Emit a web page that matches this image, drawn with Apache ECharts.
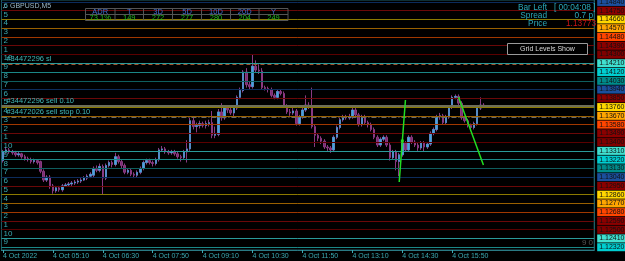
<!DOCTYPE html>
<html><head><meta charset="utf-8">
<script src="https://cdn.jsdelivr.net/npm/echarts@6/dist/echarts.min.js"></script>
<style>html,body{margin:0;padding:0;background:#000}#c{width:625px;height:261px}</style>
</head><body><div id="c"></div>
<script>
// ---------- data ----------
const symbolName = "GBPUSD,M5";
const tickLabels = ["4 Oct 2022","4 Oct 05:10","4 Oct 06:30","4 Oct 07:50","4 Oct 09:10","4 Oct 10:30","4 Oct 11:50","4 Oct 13:10","4 Oct 14:30","4 Oct 15:50"];
const tickEvery = 16;      // bars between time labels (M5 -> 80 min)
const slotCount = 190;     // bar slots visible incl. chart shift
// [open, close, low, high]
const candles = [
[1.1321,1.1330,1.1319,1.1332],[1.1330,1.1332,1.1328,1.1335],[1.1332,1.1330,1.1328,1.1334],[1.1330,1.1329,1.1327,1.1332],
[1.1329,1.1327,1.1325,1.1331],[1.1327,1.1328,1.1325,1.1330],[1.1328,1.1325,1.1323,1.1329],[1.1325,1.1323,1.1321,1.1327],
[1.1323,1.1322,1.1320,1.1325],[1.1322,1.1320,1.1318,1.1324],[1.1320,1.1321,1.1318,1.1323],[1.1321,1.1319,1.1317,1.1322],
[1.1320,1.1310,1.1308,1.1321],[1.1310,1.1301,1.1299,1.1312],[1.1301,1.1304,1.1299,1.1306],[1.1304,1.1295,1.1292,1.1306],
[1.1295,1.1290,1.1287,1.1297],[1.1290,1.1293,1.1288,1.1295],[1.1293,1.1291,1.1289,1.1295],[1.1291,1.1295,1.1289,1.1297],
[1.1295,1.1296,1.1294,1.1298],[1.1296,1.1297,1.1294,1.1299],[1.1297,1.1298,1.1295,1.1300],[1.1298,1.1299,1.1296,1.1301],
[1.1299,1.1300,1.1297,1.1302],[1.1300,1.1301,1.1298,1.1303],[1.1301,1.1303,1.1300,1.1305],[1.1303,1.1305,1.1301,1.1307],
[1.1305,1.1307,1.1303,1.1309],[1.1306,1.1313,1.1304,1.1315],[1.1313,1.1311,1.1309,1.1316],[1.1311,1.1315,1.1309,1.1318],
[1.1315,1.1303,1.1286,1.1317],[1.1303,1.1316,1.1301,1.1318],[1.1316,1.1319,1.1314,1.1321],[1.1319,1.1317,1.1314,1.1321],
[1.1317,1.1325,1.1315,1.1329],[1.1325,1.1320,1.1318,1.1327],[1.1320,1.1316,1.1313,1.1322],[1.1316,1.1309,1.1307,1.1318],
[1.1309,1.1311,1.1307,1.1313],[1.1311,1.1307,1.1305,1.1313],[1.1307,1.1306,1.1303,1.1309],[1.1306,1.1309,1.1304,1.1311],
[1.1309,1.1313,1.1307,1.1315],[1.1313,1.1319,1.1311,1.1321],[1.1319,1.1321,1.1317,1.1323],[1.1321,1.1319,1.1317,1.1323],
[1.1319,1.1318,1.1315,1.1321],[1.1318,1.1322,1.1316,1.1324],[1.1322,1.1332,1.1320,1.1334],[1.1332,1.1333,1.1330,1.1336],
[1.1333,1.1330,1.1328,1.1335],[1.1330,1.1329,1.1327,1.1332],[1.1329,1.1330,1.1327,1.1332],[1.1330,1.1328,1.1326,1.1332],
[1.1328,1.1325,1.1323,1.1330],[1.1325,1.1324,1.1320,1.1327],[1.1324,1.1330,1.1322,1.1332],[1.1330,1.1333,1.1319,1.1342],
[1.1333,1.1362,1.1331,1.1365],[1.1362,1.1356,1.1353,1.1366],[1.1356,1.1357,1.1350,1.1360],[1.1357,1.1359,1.1354,1.1362],
[1.1359,1.1357,1.1355,1.1361],[1.1357,1.1359,1.1354,1.1362],[1.1359,1.1360,1.1356,1.1363],[1.1360,1.1347,1.1344,1.1372],
[1.1347,1.1348,1.1344,1.1356],[1.1348,1.1371,1.1346,1.1374],[1.1371,1.1365,1.1362,1.1380],[1.1365,1.1375,1.1363,1.1377],
[1.1375,1.1373,1.1370,1.1378],[1.1373,1.1370,1.1368,1.1376],[1.1370,1.1375,1.1366,1.1377],[1.1375,1.1386,1.1373,1.1388],
[1.1386,1.1393,1.1384,1.1396],[1.1393,1.1412,1.1391,1.1414],[1.1412,1.1399,1.1396,1.1416],[1.1399,1.1397,1.1394,1.1402],
[1.1397,1.1418,1.1395,1.1430],[1.1418,1.1414,1.1411,1.1424],[1.1414,1.1413,1.1410,1.1420],[1.1413,1.1396,1.1394,1.1416],
[1.1396,1.1395,1.1393,1.1398],[1.1395,1.1394,1.1391,1.1397],[1.1394,1.1388,1.1386,1.1396],[1.1388,1.1386,1.1384,1.1390],
[1.1386,1.1392,1.1384,1.1394],[1.1392,1.1390,1.1388,1.1394],[1.1390,1.1377,1.1375,1.1392],[1.1377,1.1371,1.1369,1.1379],
[1.1371,1.1370,1.1367,1.1374],[1.1370,1.1372,1.1368,1.1375],[1.1372,1.1359,1.1357,1.1374],[1.1359,1.1366,1.1357,1.1368],
[1.1366,1.1373,1.1364,1.1375],[1.1373,1.1378,1.1371,1.1388],[1.1378,1.1377,1.1374,1.1381],[1.1377,1.1356,1.1354,1.1396],
[1.1356,1.1347,1.1335,1.1358],[1.1347,1.1344,1.1341,1.1349],[1.1344,1.1341,1.1338,1.1346],[1.1341,1.1335,1.1333,1.1343],
[1.1335,1.1334,1.1331,1.1337],[1.1334,1.1332,1.1329,1.1336],[1.1332,1.1345,1.1330,1.1347],[1.1345,1.1355,1.1343,1.1357],
[1.1355,1.1363,1.1353,1.1365],[1.1363,1.1366,1.1361,1.1368],[1.1366,1.1365,1.1363,1.1368],[1.1365,1.1366,1.1363,1.1369],
[1.1366,1.1373,1.1364,1.1375],[1.1373,1.1368,1.1366,1.1375],[1.1368,1.1358,1.1356,1.1370],[1.1358,1.1366,1.1356,1.1368],
[1.1366,1.1360,1.1358,1.1368],[1.1360,1.1358,1.1355,1.1362],[1.1358,1.1353,1.1351,1.1360],[1.1353,1.1345,1.1343,1.1355],
[1.1345,1.1337,1.1335,1.1347],[1.1337,1.1343,1.1335,1.1345],[1.1343,1.1345,1.1341,1.1347],[1.1345,1.1337,1.1335,1.1347],
[1.1337,1.1324,1.1321,1.1339],[1.1324,1.1330,1.1322,1.1332],[1.1330,1.1320,1.1311,1.1332],[1.1320,1.1327,1.1305,1.1329],
[1.1327,1.1339,1.1325,1.1341],[1.1339,1.1332,1.1330,1.1341],[1.1332,1.1345,1.1330,1.1347],[1.1345,1.1340,1.1338,1.1347],
[1.1340,1.1337,1.1335,1.1342],[1.1337,1.1334,1.1331,1.1339],[1.1334,1.1339,1.1332,1.1341],[1.1339,1.1335,1.1330,1.1341],
[1.1335,1.1338,1.1333,1.1340],[1.1338,1.1349,1.1336,1.1351],[1.1349,1.1353,1.1347,1.1355],[1.1353,1.1366,1.1351,1.1368],
[1.1366,1.1367,1.1363,1.1370],[1.1367,1.1360,1.1358,1.1369],[1.1360,1.1366,1.1358,1.1368],[1.1366,1.1376,1.1364,1.1378],
[1.1376,1.1386,1.1374,1.1388],[1.1386,1.1387,1.1384,1.1389],[1.1387,1.1380,1.1378,1.1389],[1.1380,1.1365,1.1363,1.1382],
[1.1365,1.1362,1.1360,1.1367],[1.1362,1.1357,1.1355,1.1364],[1.1357,1.1355,1.1353,1.1359],[1.1355,1.1359,1.1353,1.1361],
[1.1359,1.1375,1.1357,1.1377],[1.1375,1.1378,1.1373,1.1386],[1.1378,1.1377,1.1376,1.1380]
];
const gridLevels = [1.14840,1.14750,1.14660,1.14570,1.14480,1.14390,1.14300,1.14210,1.14120,1.14030,
  1.13940,1.13850,1.13760,1.13670,1.13580,1.13490,1.13400,1.13310,1.13220,1.13130,
  1.13040,1.12950,1.12860,1.12770,1.12680,1.12590,1.12500,1.12410,1.12320];
const levelDigits = ["7","6","5","4","3","2","1","10","9","8",
  "7","6","5","4","3","2","1","10","9","8",
  "7","6","5","4","3","2","1","10","9"];
const orderLines = [
  {text:"#34472296 sl", price:1.14203},
  {text:"#34472296 sell 0.10", price:1.13775},
  {text:"#34472026 sell stop 0.10", price:1.13655}
];
const zigzagUp = [[127,1.12990],[128,1.13411],[129,1.13833]];
const zigzagDown = [[146,1.13863],[150,1.13514],[154,1.13165]];
const adrHeaders = ["ADR","T","3D","5D","10D","20D","Y"];
const adrValues = ["73.1%","149","272","277","280","204","249"];
const infoLabels = ["Bar Left","Spread","Price"];
const infoValues = ["[ 00:04:08 ]","0.7 p","1.13773"];
const buttonText = "Grid Levels Show";
const cornerText = "9 0";

// ---------- styles ----------
const lineCols = ['#0c2c5c','#6a0808','#8c7a00','#9a6000','#a03800','#6a0808','#5a0000','#2a9a9a','#1a8888','#0f5e5e'];
const boxCols  = ['#1b4f9c','#8b0000','#ffd700','#ffa500','#ff4500','#8b0000','#800000','#40e0d0','#00ced1','#008b8b'];
const orderStyles = [
  {color:'#a0522d', type:[4,3], width:1},
  {color:'#6e6e58', type:'solid', width:2},
  {color:'#6a6a6a', type:[5,2,1,2], width:1}
];
const teal = '#3aa8b0';
const font = 'Liberation Sans, Arial, sans-serif';

const cats = Array.from({length: slotCount}, (_, i) => String(i));
const yMax = 1.14860, yMin = 1.122915;

const levelMarks = gridLevels.map((p, k) => ({
  yAxis: p,
  lineStyle: {color: lineCols[k % 10], width: 1, type: 'solid'},
  label: {show: true, position: 'end', distance: 3, formatter: p.toFixed(5),
    backgroundColor: boxCols[k % 10], color: '#111', fontSize: 7, fontFamily: font,
    padding: [1, 1, 0, 2], width: 25}
}));
const digitMarks = gridLevels.map((p, k) => ({
  yAxis: p,
  lineStyle: {color: 'rgba(0,0,0,0)', width: 0},
  label: {show: true, position: 'insideStartTop', distance: [2, 1], formatter: levelDigits[k],
    color: teal, fontSize: 8, fontFamily: font}
}));
const orderMarks = orderLines.map((o, k) => ({
  yAxis: o.price,
  lineStyle: orderStyles[k],
  label: {show: true, position: 'insideStartTop', distance: [5, 1], formatter: o.text,
    color: '#40b8b8', fontSize: 7.5, fontFamily: font}
}));

const bullBodies = candles.map(c => c[1] > c[0] ? [c[0], c[1], c[0], c[1]] : '-');

// table graphics
const tblX = [85.5,115,143.5,172.5,201.5,230.5,259,288];
const graphics = [];
graphics.push({type:'rect', shape:{x:85.5,y:8.5,width:202.5,height:12}, style:{fill:'rgba(0,0,0,0)', stroke:'#555', lineWidth:1}, z:10});
graphics.push({type:'line', shape:{x1:85.5,y1:14.5,x2:288,y2:14.5}, style:{stroke:'#555', lineWidth:1}, z:10});
for (let i = 1; i < 7; i++) graphics.push({type:'line', shape:{x1:tblX[i],y1:8.5,x2:tblX[i],y2:20.5}, style:{stroke:'#555',lineWidth:1}, z:10});
adrHeaders.forEach((h, i) => {
  const cx = (tblX[i] + tblX[i+1]) / 2;
  graphics.push({type:'text', x:cx, y:11.7, style:{text:h, fill:'#3f6fd0', font:'7.5px '+font, textAlign:'center', textVerticalAlign:'middle'}, z:11});
  graphics.push({type:'text', x:cx, y:17.8, style:{text:adrValues[i], fill:'#22b822', font:'7.5px '+font, textAlign:'center', textVerticalAlign:'middle'}, z:11});
});
// symbol
graphics.push({type:'text', x:2, y:3, style:{text:'\u266B', fill:'#8fb4c8', font:'7px '+font}, z:11});
graphics.push({type:'text', x:10, y:3, style:{text:symbolName, fill:'#9ab8c8', font:'7px '+font}, z:11});
// info panel
infoLabels.forEach((t, i) => {
  graphics.push({type:'text', x:547, y:3.5 + i*8.3, style:{text:t, fill:'#2aa7b8', font:'8.3px '+font, textAlign:'right'}, z:11});
});
graphics.push({type:'text', x:595.5, y:3.5, style:{text:infoValues[0], fill:'#2aa7b8', font:'8.3px '+font, textAlign:'right'}, z:11});
graphics.push({type:'text', x:593, y:11.8, style:{text:infoValues[1], fill:'#2aa7b8', font:'8.3px '+font, textAlign:'right'}, z:11});
graphics.push({type:'text', x:596, y:20.1, style:{text:infoValues[2], fill:'#d01515', font:'8.3px '+font, textAlign:'right'}, z:11});
// button
graphics.push({type:'rect', shape:{x:507.5,y:43.5,width:80,height:11}, style:{fill:'#000', stroke:'#9a9a9a', lineWidth:1}, z:11});
graphics.push({type:'text', x:547.5, y:49, style:{text:buttonText, fill:'#d8d8d8', font:'7px '+font, textAlign:'center', textVerticalAlign:'middle'}, z:12});
// corner
graphics.push({type:'text', x:593, y:239, style:{text:cornerText, fill:'#555', font:'8px '+font, textAlign:'right'}, z:11});

const chart = echarts.init(document.getElementById('c'), null, {renderer:'canvas'});
chart.setOption({
  backgroundColor: '#000',
  animation: false,
  grid: {left: 0.44, right: 30.81, top: 0, bottom: 11, show: true, borderColor: '#1e5e66', borderWidth: 1, backgroundColor:'transparent'},
  xAxis: {
    type: 'category', data: cats, boundaryGap: true,
    axisLine: {show: true, lineStyle: {color: '#2a7a84'}},
    axisTick: {show: true, alignWithLabel: true, length: 3, lineStyle:{color: teal},
      interval: (i) => i % tickEvery === 0 && i / tickEvery < tickLabels.length},
    axisLabel: {show: true, color: teal, fontSize: 7, fontFamily: font, align: 'left', margin: 3,
      interval: (i) => i % tickEvery === 0 && i / tickEvery < tickLabels.length,
      formatter: (v, i) => (i % tickEvery === 0 && i / tickEvery < tickLabels.length) ? tickLabels[i / tickEvery] : ''},
    splitLine: {show: false}
  },
  yAxis: {type: 'value', min: yMin, max: yMax, position: 'right',
    axisLine: {show: true, lineStyle:{color:'#1e5e66'}}, axisTick:{show:false}, axisLabel: {show: false}, splitLine: {show: false}},
  graphic: graphics,
  series: [
    {type: 'candlestick', data: candles, barWidth: 2, z: 2,
      itemStyle: {color: '#7a2e70', color0: '#7a2e70', borderColor: '#8a3a82', borderColor0: '#8a3a82', borderWidth: 1},
      markLine: {symbol: ['none','none'], silent: true, animation: false, precision: 5,
        data: levelMarks.concat(orderMarks, digitMarks)}},
    {type: 'candlestick', data: bullBodies, barWidth: 2, z: 4,
      itemStyle: {color: '#45a6de', color0: '#45a6de', borderColor: '#45a6de', borderColor0: '#45a6de', borderWidth: 0.5}},
    {type: 'line', data: zigzagUp, z: 5, symbol: 'rect', symbolSize: 3, lineStyle: {color: '#22dd22', width: 1.5}, itemStyle: {color: '#22dd22'}},
    {type: 'line', data: zigzagDown, z: 5, symbol: 'rect', symbolSize: 3, lineStyle: {color: '#22dd22', width: 1.5}, itemStyle: {color: '#22dd22'}}
  ]
});
</script></body></html>
